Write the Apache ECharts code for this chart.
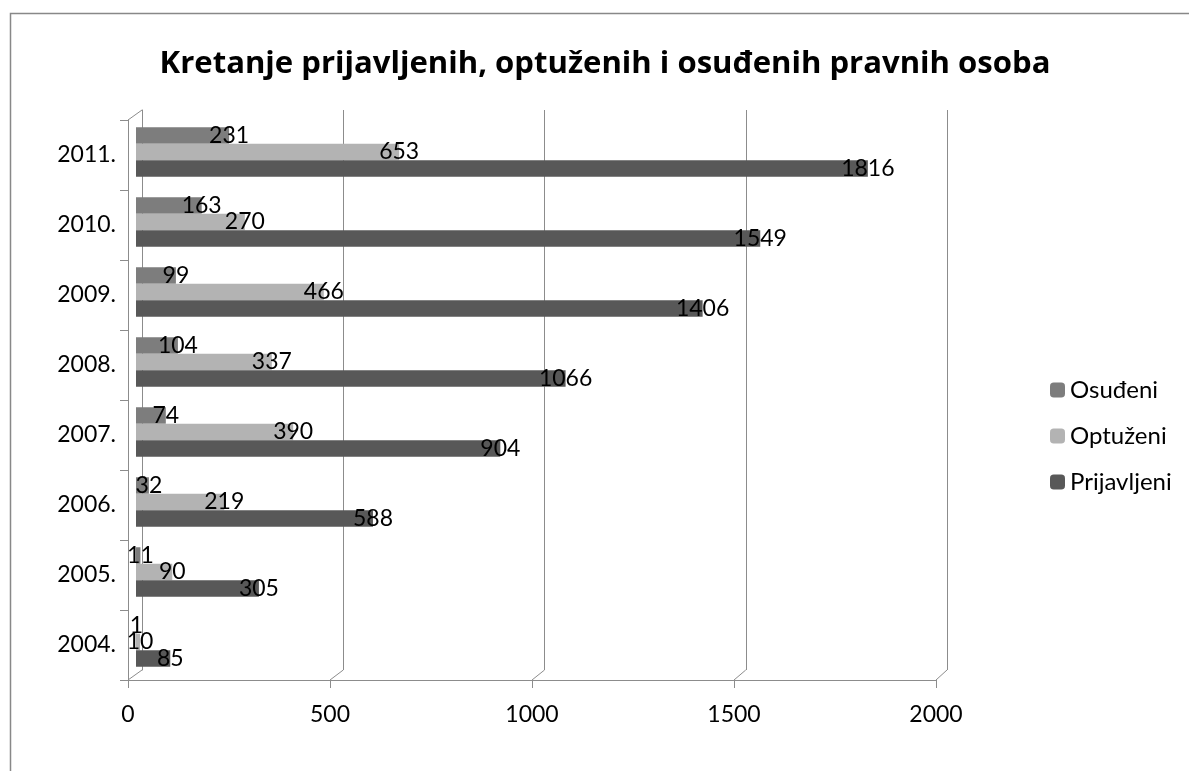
<!DOCTYPE html>
<html><head><meta charset="utf-8">
<script src="https://cdn.jsdelivr.net/npm/echarts@6/dist/echarts.min.js"></script>
<style>html,body{margin:0;padding:0;background:#fff}#c{width:1189px;height:771px}</style>
</head><body><div id="c"></div>
<script>
const years = ['2004.','2005.','2006.','2007.','2008.','2009.','2010.','2011.'];
const osudeni = [1, 11, 32, 74, 104, 99, 163, 231];
const optuzeni = [10, 90, 219, 390, 337, 466, 270, 653];
const prijavljeni = [85, 305, 588, 904, 1066, 1406, 1549, 1816];
const xTicks = [0, 500, 1000, 1500, 2000];
const TITLE = 'Kretanje prijavljenih, optuženih i osuđenih pravnih osoba';

const FONT = 'Lato';
const LINE = '#8c8c8c';
// layout
const back = {left:142, top:110, w:805, h:560};
const front = {left:128, top:120, w:808, h:560};
const bars = {left:136, top:117, w:806, h:560};

// fit title to the reference width (159..1050)
const cv = document.createElement('canvas').getContext('2d');
cv.font = 'bold 29px "Open Sans"';
let titleSize = 29 * 891 / cv.measureText(TITLE).width;
titleSize = Math.max(24, Math.min(34, titleSize));

const chart = echarts.init(document.getElementById('c'));

const gfx = [{type:'rect', shape:{x:10.5,y:13.5,width:1400,height:1000}, style:{fill:null, stroke:'#888', lineWidth:1.5}, silent:true},
  {type:'line', shape:{x1:front.left, y1:front.top, x2:back.left, y2:back.top}, style:{stroke:LINE, lineWidth:1}}];
xTicks.forEach(function(v){
  const bx = back.left + back.w * v / 2000;
  const fx = front.left + front.w * v / 2000;
  gfx.push({type:'line', shape:{x1:bx, y1:back.top+back.h, x2:fx, y2:front.top+front.h}, style:{stroke:LINE, lineWidth:1}});
});

function lbl(){
  return {show:true, position:['100%','50%'], align:'center', verticalAlign:'middle',
    fontFamily:FONT, fontSize:23, color:'#000'};
}

chart.setOption({
  animation:false,
  backgroundColor:'#fff',
  title:{text:TITLE, left:605, textAlign:'center', top:65 - titleSize/2 - 1,
    textStyle:{fontFamily:'Open Sans', fontWeight:'bold', fontSize:titleSize, color:'#000'}, padding:0},
  legend:{orient:'vertical', left:1045, top:373, itemWidth:15, itemHeight:15, itemGap:22,
    data:['Osuđeni','Optuženi','Prijavljeni'],
    textStyle:{fontFamily:FONT, fontSize:24, color:'#000'}},
  grid:[
    {left:back.left, top:back.top, width:back.w, height:back.h},
    {left:front.left, top:front.top, width:front.w, height:front.h},
    {left:bars.left, top:bars.top, width:bars.w, height:bars.h}
  ],
  xAxis:[
    {gridIndex:0, type:'value', min:0, max:2000, interval:500,
      axisLine:{show:false}, axisTick:{show:false}, axisLabel:{show:false},
      splitLine:{show:true, lineStyle:{color:LINE, width:1}}},
    {gridIndex:1, type:'value', min:0, max:2000, interval:500,
      axisLine:{show:true, lineStyle:{color:LINE, width:1}},
      axisTick:{show:true, length:8, lineStyle:{color:LINE}},
      axisLabel:{show:true, fontFamily:FONT, fontSize:23, color:'#000', margin:23,
        formatter:function(v){return String(v);}},
      splitLine:{show:false}},
    {gridIndex:2, type:'value', min:0, max:2000, show:false}
  ],
  yAxis:[
    {gridIndex:0, type:'category', data:years, axisLine:{show:true, lineStyle:{color:LINE}},
      axisTick:{show:false}, axisLabel:{show:false}},
    {gridIndex:1, type:'category', data:years, axisLine:{show:true, lineStyle:{color:LINE}},
      axisTick:{show:true, length:8, lineStyle:{color:LINE}},
      axisLabel:{fontFamily:FONT, fontSize:23, color:'#000', margin:12}},
    {gridIndex:2, type:'category', data:years, show:false}
  ],
  series:[
    {name:'Osuđeni', type:'bar', xAxisIndex:2, yAxisIndex:2, data:osudeni,
      barWidth:16.5, barGap:'0%', barCategoryGap:'28%', itemStyle:{color:'#7d7d7d'}, label:lbl()},
    {name:'Optuženi', type:'bar', xAxisIndex:2, yAxisIndex:2, data:optuzeni,
      barWidth:16.5, barGap:'0%', itemStyle:{color:'#b3b3b3'}, label:lbl()},
    {name:'Prijavljeni', type:'bar', xAxisIndex:2, yAxisIndex:2, data:prijavljeni,
      barWidth:16.5, barGap:'0%', itemStyle:{color:'#585858'}, label:lbl()}
  ],
  graphic:gfx
});
</script></body></html>
